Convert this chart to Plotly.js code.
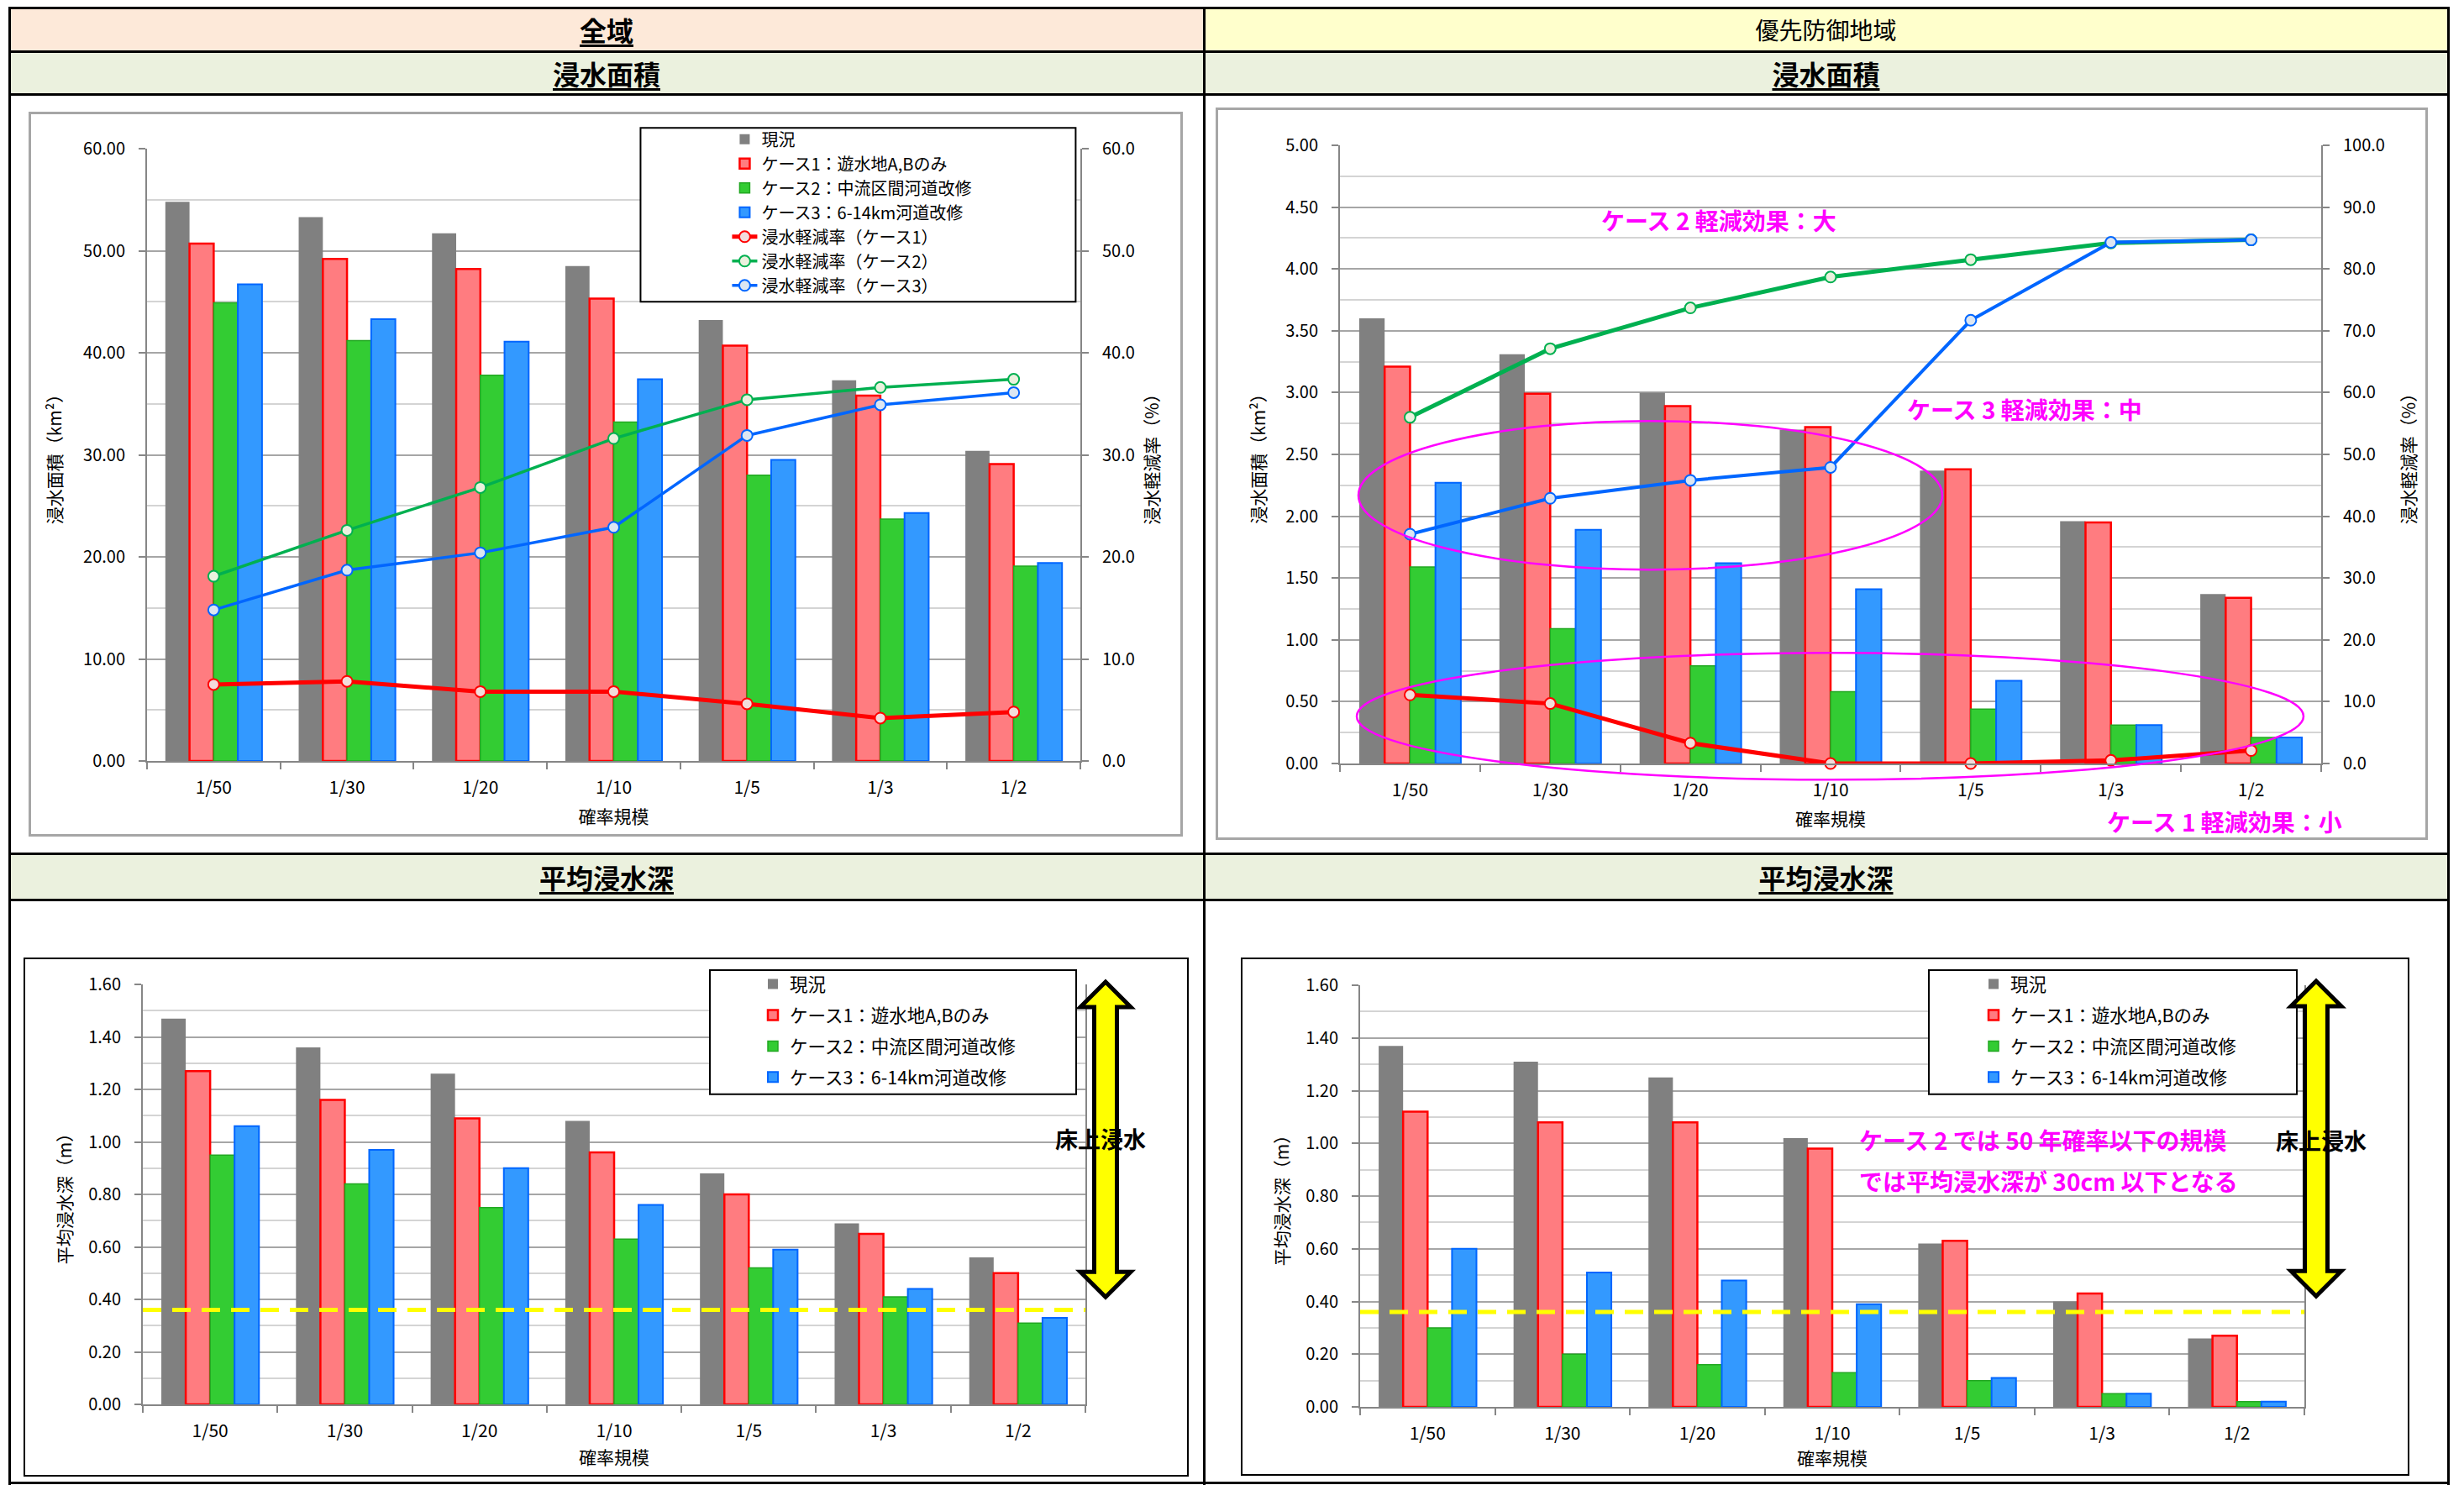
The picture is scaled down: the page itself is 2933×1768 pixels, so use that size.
<!DOCTYPE html>
<html>
<head>
<meta charset="utf-8">
<script src="https://cdn.plot.ly/plotly-3.0.1.min.js"></script>
<style>
  html, body { margin: 0; padding: 0; background: #fff; }
  #page { position: relative; width: 2933px; height: 1768px; overflow: hidden;
          font-family: "Noto Sans CJK JP", "Noto Sans", sans-serif; color: #000; }
  .cell { position: absolute; display: flex; align-items: center; justify-content: center; }
  .hd { font-size: 32px; line-height: 1; }
  .b { font-weight: bold; }
  .u { text-decoration: underline; text-decoration-thickness: 3px; text-underline-offset: 4px; }
  .hline { position: absolute; left: 10px; width: 2906px; height: 3px; background: #000; }
  .vline { position: absolute; top: 8px; width: 3px; height: 1760px; background: #000; }
  .chart { position: absolute; }
  .frame { position: absolute; box-sizing: border-box; pointer-events: none; }
</style>
</head>
<body>
<div id="page">
  <!-- header rows -->
  <div class="cell" style="left:11px;top:9px;width:1422px;height:52px;background:#FDE9D9;"><span class="hd b u">全域</span></div>
  <div class="cell" style="left:1433px;top:9px;width:1481px;height:52px;background:#FFFFCC;"><span class="hd" style="font-size:28px;">優先防御地域</span></div>
  <div class="cell" style="left:11px;top:61px;width:1422px;height:51px;background:#EBF1DE;"><span class="hd b u">浸水面積</span></div>
  <div class="cell" style="left:1433px;top:61px;width:1481px;height:51px;background:#EBF1DE;"><span class="hd b u">浸水面積</span></div>
  <div class="cell" style="left:11px;top:1016px;width:1422px;height:55px;background:#EBF1DE;"><span class="hd b u">平均浸水深</span></div>
  <div class="cell" style="left:1433px;top:1016px;width:1481px;height:55px;background:#EBF1DE;"><span class="hd b u">平均浸水深</span></div>

  <!-- charts -->
  <div id="areaAll" class="chart"></div>
  <div id="areaPriority" class="chart"></div>
  <div id="depthAll" class="chart"></div>
  <div id="depthPriority" class="chart"></div>
  <div id="frameAreaAll" class="frame"></div>
  <div id="frameAreaPriority" class="frame"></div>
  <div id="frameDepthAll" class="frame"></div>
  <div id="frameDepthPriority" class="frame"></div>

  <!-- table rules -->
  <div class="hline" style="top:8px;"></div>
  <div class="hline" style="top:60px;"></div>
  <div class="hline" style="top:111px;"></div>
  <div class="hline" style="top:1015px;"></div>
  <div class="hline" style="top:1070px;"></div>
  <div class="hline" style="top:1764px;"></div>
  <div class="vline" style="left:10px;"></div>
  <div class="vline" style="left:1432px;"></div>
  <div class="vline" style="left:2913px;"></div>
</div>

<script>
// ---------- data ----------
const categories = ['1/50', '1/30', '1/20', '1/10', '1/5', '1/3', '1/2'];

const seriesNames = ['現況', 'ケース1：遊水地A,Bのみ', 'ケース2：中流区間河道改修', 'ケース3：6-14km河道改修'];
const rateNames = ['浸水軽減率（ケース1）', '浸水軽減率（ケース2）', '浸水軽減率（ケース3）'];

// 全域 浸水面積 (km²)
const areaAllCurrent = [54.8, 53.3, 51.7, 48.5, 43.2, 37.3, 30.4];
const areaAllCase1   = [50.7, 49.2, 48.2, 45.3, 40.7, 35.8, 29.1];
const areaAllCase2   = [44.9, 41.2, 37.8, 33.2, 28.0, 23.7, 19.1];
const areaAllCase3   = [46.7, 43.3, 41.1, 37.4, 29.5, 24.3, 19.4];
// 全域 浸水軽減率 (%)
const rateAllCase1 = [7.5, 7.8, 6.8, 6.8, 5.6, 4.2, 4.8];
const rateAllCase2 = [18.1, 22.6, 26.8, 31.6, 35.4, 36.6, 37.4];
const rateAllCase3 = [14.8, 18.7, 20.4, 22.9, 31.9, 34.9, 36.1];

// 優先防御地域 浸水面積 (km²)
const areaPriCurrent = [3.60, 3.31, 3.00, 2.70, 2.37, 1.96, 1.37];
const areaPriCase1   = [3.21, 2.99, 2.89, 2.72, 2.38, 1.95, 1.34];
const areaPriCase2   = [1.59, 1.09, 0.79, 0.58, 0.44, 0.31, 0.21];
const areaPriCase3   = [2.27, 1.89, 1.62, 1.41, 0.67, 0.31, 0.21];
// 優先防御地域 浸水軽減率 (%)
const ratePriCase1 = [11.1, 9.7, 3.3, 0.0, 0.0, 0.5, 2.1];
const ratePriCase2 = [56.0, 67.1, 73.7, 78.7, 81.5, 84.2, 84.7];
const ratePriCase3 = [37.1, 42.9, 45.8, 47.9, 71.7, 84.3, 84.7];

// 平均浸水深 (m)
const depthAllCurrent = [1.47, 1.36, 1.26, 1.08, 0.88, 0.69, 0.56];
const depthAllCase1   = [1.27, 1.16, 1.09, 0.96, 0.80, 0.65, 0.50];
const depthAllCase2   = [0.95, 0.84, 0.75, 0.63, 0.52, 0.41, 0.31];
const depthAllCase3   = [1.06, 0.97, 0.90, 0.76, 0.59, 0.44, 0.33];
const depthPriCurrent = [1.37, 1.31, 1.25, 1.02, 0.62, 0.40, 0.26];
const depthPriCase1   = [1.12, 1.08, 1.08, 0.98, 0.63, 0.43, 0.27];
const depthPriCase2   = [0.30, 0.20, 0.16, 0.13, 0.10, 0.05, 0.02];
const depthPriCase3   = [0.60, 0.51, 0.48, 0.39, 0.11, 0.05, 0.02];
// 床上浸水の目安
const floorLevel = 0.36;

// ---------- styling ----------
const FONT = '"Noto Sans CJK JP", "Noto Sans", sans-serif';
const AXIS = '#868686';
const GRID = '#A6A6A6';
const MINOR = '#D4D4D4';
const barStyles = [
  { fill: '#808080', edge: '#808080', w: 0 },
  { fill: '#FF7C80', edge: '#FF0000', w: 2.5 },
  { fill: '#33CC33', edge: '#22A822', w: 1.5 },
  { fill: '#3399FF', edge: '#0066FF', w: 2 }
];
const rateStyles = [
  { line: '#FF0000', dot: '#F2DCDB' },
  { line: '#00B050', dot: '#EBF1DE' },
  { line: '#0066FF', dot: '#DCE6F2' }
];

// frame = outer box of each chart, plot = inner plotting area (page px)
const boxes = {
  areaAll:       { frame: { x: 34,   y: 133,  w: 1374, h: 863 }, plot: { x0: 174.5, x1: 1285.6, y0: 176.7, y1: 905.7 } },
  areaPriority:  { frame: { x: 1447, y: 128,  w: 1443, h: 872 }, plot: { x0: 1595,  x1: 2763,   y0: 173,   y1: 908.7 } },
  depthAll:      { frame: { x: 28,   y: 1140, w: 1387, h: 618 }, plot: { x0: 170,   x1: 1292,   y0: 1171,  y1: 1672 } },
  depthPriority: { frame: { x: 1477, y: 1140, w: 1391, h: 617 }, plot: { x0: 1619,  x1: 2743,   y0: 1172,  y1: 1675 } }
};

function mapper(b) {
  const p = b.plot;
  return {
    x: px => (px - p.x0) / (p.x1 - p.x0),
    y: py => (p.y1 - py) / (p.y1 - p.y0)
  };
}

function placeBox(id, frameId, b, border) {
  const f = b.frame;
  const el = document.getElementById(id);
  el.style.left = f.x + 'px'; el.style.top = f.y + 'px';
  const fr = document.getElementById(frameId);
  fr.style.left = f.x + 'px'; fr.style.top = f.y + 'px';
  fr.style.width = f.w + 'px'; fr.style.height = f.h + 'px';
  fr.style.border = border;
}

function baseLayout(b, xTitleGap) {
  const f = b.frame, p = b.plot;
  return {
    width: f.w, height: f.h,
    margin: { l: p.x0 - f.x, r: f.x + f.w - p.x1, t: p.y0 - f.y, b: f.y + f.h - p.y1, pad: 0 },
    paper_bgcolor: 'rgba(0,0,0,0)', plot_bgcolor: '#fff',
    font: { family: FONT, size: 20, color: '#000' },
    barmode: 'group', bargap: 0.275, bargroupgap: 0,
    hovermode: false,
    xaxis: {
      type: 'category', tickson: 'boundaries', ticks: 'outside', ticklen: 8, tickwidth: 2, tickcolor: AXIS,
      showline: true, linecolor: AXIS, linewidth: 2, showgrid: false, zeroline: false,
      ticklabelstandoff: 12, tickfont: { size: 21 },
      title: { text: '確率規模', font: { size: 21 }, standoff: xTitleGap }
    },
    shapes: [], annotations: []
  };
}

function valueAxis(range, dtick, minor, fmt, title, standoff) {
  return {
    range: range, dtick: dtick, tick0: 0, tickformat: fmt,
    ticks: 'outside', ticklen: 8, tickwidth: 2, tickcolor: AXIS,
    showline: true, linecolor: AXIS, linewidth: 2, zeroline: false,
    showgrid: true, gridcolor: GRID, gridwidth: 2,
    minor: { dtick: minor, tick0: 0, showgrid: true, gridcolor: MINOR, gridwidth: 2, ticks: '' },
    ticklabelstandoff: 12, tickfont: { size: 20 },
    title: { text: title, font: { size: 21 }, standoff: standoff }
  };
}

function rateAxis(range, title, standoff) {
  return {
    overlaying: 'y', side: 'right', range: range, dtick: 10, tick0: 0, tickformat: '.1f',
    ticks: 'outside', ticklen: 8, tickwidth: 2, tickcolor: AXIS,
    showline: true, linecolor: AXIS, linewidth: 2, showgrid: false, zeroline: false,
    ticklabelstandoff: 12, tickfont: { size: 20 },
    title: { text: title, font: { size: 21 }, standoff: standoff }
  };
}

function barTraces(values, showlegend) {
  return values.map((v, i) => ({
    type: 'bar', name: seriesNames[i], x: categories, y: v,
    marker: { color: barStyles[i].fill, line: { color: barStyles[i].edge, width: barStyles[i].w } },
    showlegend: showlegend, legendgroup: 'g' + i
  }));
}

function rateTraces(values, widths, showlegend) {
  return values.map((v, i) => ({
    type: 'scatter', mode: 'lines+markers', name: rateNames[i], x: categories, y: v, yaxis: 'y2',
    line: { color: rateStyles[i].line, width: widths[i] },
    marker: { symbol: 'circle', size: 13, color: rateStyles[i].dot, line: { color: rateStyles[i].line, width: 2 } },
    cliponaxis: false, showlegend: showlegend, legendgroup: 'r' + i
  }));
}

function legendBox(m, x0, y0, x1, y1) {
  return { type: 'rect', xref: 'paper', yref: 'paper', x0: m.x(x0), x1: m.x(x1), y0: m.y(y1), y1: m.y(y0),
           line: { color: '#000', width: 2 }, fillcolor: '#fff', layer: 'above' };
}

function arrowShape(m, cx, top, bottom) {
  const hw = 30, hh = 30, sw = 13.5;
  const pts = [[cx, top], [cx + hw, top + hh], [cx + sw, top + hh], [cx + sw, bottom - hh], [cx + hw, bottom - hh],
               [cx, bottom], [cx - hw, bottom - hh], [cx - sw, bottom - hh], [cx - sw, top + hh], [cx - hw, top + hh]];
  const path = 'M' + pts.map(p => m.x(p[0]).toFixed(5) + ',' + m.y(p[1]).toFixed(5)).join('L') + 'Z';
  return { type: 'path', xref: 'paper', yref: 'paper', path: path, fillcolor: '#FFFF00',
           line: { color: '#000', width: 5 }, layer: 'above' };
}

function floorLine() {
  return { type: 'line', xref: 'paper', x0: 0, x1: 1, yref: 'y', y0: floorLevel, y1: floorLevel,
           line: { color: '#FFFF00', width: 5, dash: '22px,13px' }, layer: 'above' };
}

function note(m, px, py, text, opts) {
  return Object.assign({ xref: 'paper', yref: 'paper', x: m.x(px), y: m.y(py), text: text, showarrow: false,
                         xanchor: 'center', yanchor: 'middle', font: { family: FONT, size: 28, color: '#FF00FF' } }, opts || {});
}

const config = { staticPlot: true, displayModeBar: false };

// ---------- 全域 浸水面積 ----------
(function () {
  const b = boxes.areaAll, m = mapper(b);
  placeBox('areaAll', 'frameAreaAll', b, '3px solid #A6A6A6');
  const layout = baseLayout(b, 15);
  layout.yaxis = valueAxis([0, 60], 10, 5, '.2f', '浸水面積（km²）', 20);
  layout.yaxis2 = rateAxis([0, 60], '浸水軽減率（%）', 14);
  layout.legend = { x: m.x(866), xanchor: 'left', y: m.y(146), yanchor: 'top', bgcolor: 'rgba(0,0,0,0)',
                    borderwidth: 0, font: { size: 20 }, traceorder: 'normal', tracegroupgap: 0 };
  layout.shapes.push(legendBox(m, 762, 152, 1280, 359));
  const data = barTraces([areaAllCurrent, areaAllCase1, areaAllCase2, areaAllCase3], true)
    .concat(rateTraces([rateAllCase1, rateAllCase2, rateAllCase3], [5, 3.5, 3.5], true));
  Plotly.newPlot('areaAll', data, layout, config);
})();

// ---------- 優先防御地域 浸水面積 ----------
(function () {
  const b = boxes.areaPriority, m = mapper(b);
  placeBox('areaPriority', 'frameAreaPriority', b, '3px solid #A6A6A6');
  const layout = baseLayout(b, 15);
  layout.yaxis = valueAxis([0, 5], 0.5, 0.25, '.2f', '浸水面積（km²）', 18);
  layout.yaxis2 = rateAxis([0, 100], '浸水軽減率（%）', 22);
  layout.showlegend = false;
  const ring = { color: '#FF00FF', width: 2.5 };
  layout.shapes.push({ type: 'circle', xref: 'paper', yref: 'paper', x0: m.x(1617), x1: m.x(2312), y0: m.y(678), y1: m.y(501), line: ring, layer: 'above' });
  layout.shapes.push({ type: 'circle', xref: 'paper', yref: 'paper', x0: m.x(1615), x1: m.x(2742), y0: m.y(928), y1: m.y(777), line: ring, layer: 'above' });
  layout.annotations.push(note(m, 2046, 262, '<b>ケース 2 軽減効果：大</b>'));
  layout.annotations.push(note(m, 2410, 487, '<b>ケース 3 軽減効果：中</b>'));
  layout.annotations.push(note(m, 2648, 978, '<b>ケース 1 軽減効果：小</b>'));
  const data = barTraces([areaPriCurrent, areaPriCase1, areaPriCase2, areaPriCase3], false)
    .concat(rateTraces([ratePriCase1, ratePriCase2, ratePriCase3], [5, 5, 4], false));
  Plotly.newPlot('areaPriority', data, layout, config);
})();

// ---------- 全域 平均浸水深 ----------
(function () {
  const b = boxes.depthAll, m = mapper(b);
  placeBox('depthAll', 'frameDepthAll', b, '2px solid #000');
  const layout = baseLayout(b, 12);
  layout.yaxis = valueAxis([0, 1.6], 0.2, 0.1, '.2f', '平均浸水深（m）', 14);
  layout.yaxis.mirror = true;
  layout.legend = { x: m.x(900), xanchor: 'left', y: m.y(1151), yanchor: 'top', bgcolor: 'rgba(0,0,0,0)',
                    borderwidth: 0, font: { size: 21.5 }, traceorder: 'grouped', tracegroupgap: 6 };
  layout.shapes.push(legendBox(m, 845, 1154, 1281, 1302));
  layout.shapes.push(floorLine());
  layout.shapes.push(arrowShape(m, 1316, 1168, 1544));
  layout.annotations.push(note(m, 1310, 1355, '<b>床上浸水</b>', { font: { family: FONT, size: 27, color: '#000' } }));
  const data = barTraces([depthAllCurrent, depthAllCase1, depthAllCase2, depthAllCase3], true);
  Plotly.newPlot('depthAll', data, layout, config);
})();

// ---------- 優先防御地域 平均浸水深 ----------
(function () {
  const b = boxes.depthPriority, m = mapper(b);
  placeBox('depthPriority', 'frameDepthPriority', b, '2px solid #000');
  const layout = baseLayout(b, 9);
  layout.yaxis = valueAxis([0, 1.6], 0.2, 0.1, '.2f', '平均浸水深（m）', 14);
  layout.yaxis.mirror = true;
  layout.legend = { x: m.x(2353), xanchor: 'left', y: m.y(1151), yanchor: 'top', bgcolor: 'rgba(0,0,0,0)',
                    borderwidth: 0, font: { size: 21.5 }, traceorder: 'grouped', tracegroupgap: 6 };
  layout.shapes.push(legendBox(m, 2296, 1154, 2734, 1302));
  layout.shapes.push(floorLine());
  layout.shapes.push(arrowShape(m, 2757, 1167, 1543));
  layout.annotations.push(note(m, 2763, 1357, '<b>床上浸水</b>', { font: { family: FONT, size: 27, color: '#000' } }));
  layout.annotations.push(note(m, 2211, 1356, '<b>ケース 2 では 50 年確率以下の規模</b>', { xanchor: 'left' }));
  layout.annotations.push(note(m, 2211, 1405, '<b>では平均浸水深が 30cm 以下となる</b>', { xanchor: 'left' }));
  const data = barTraces([depthPriCurrent, depthPriCase1, depthPriCase2, depthPriCase3], true);
  Plotly.newPlot('depthPriority', data, layout, config);
})();
</script>
</body>
</html>
